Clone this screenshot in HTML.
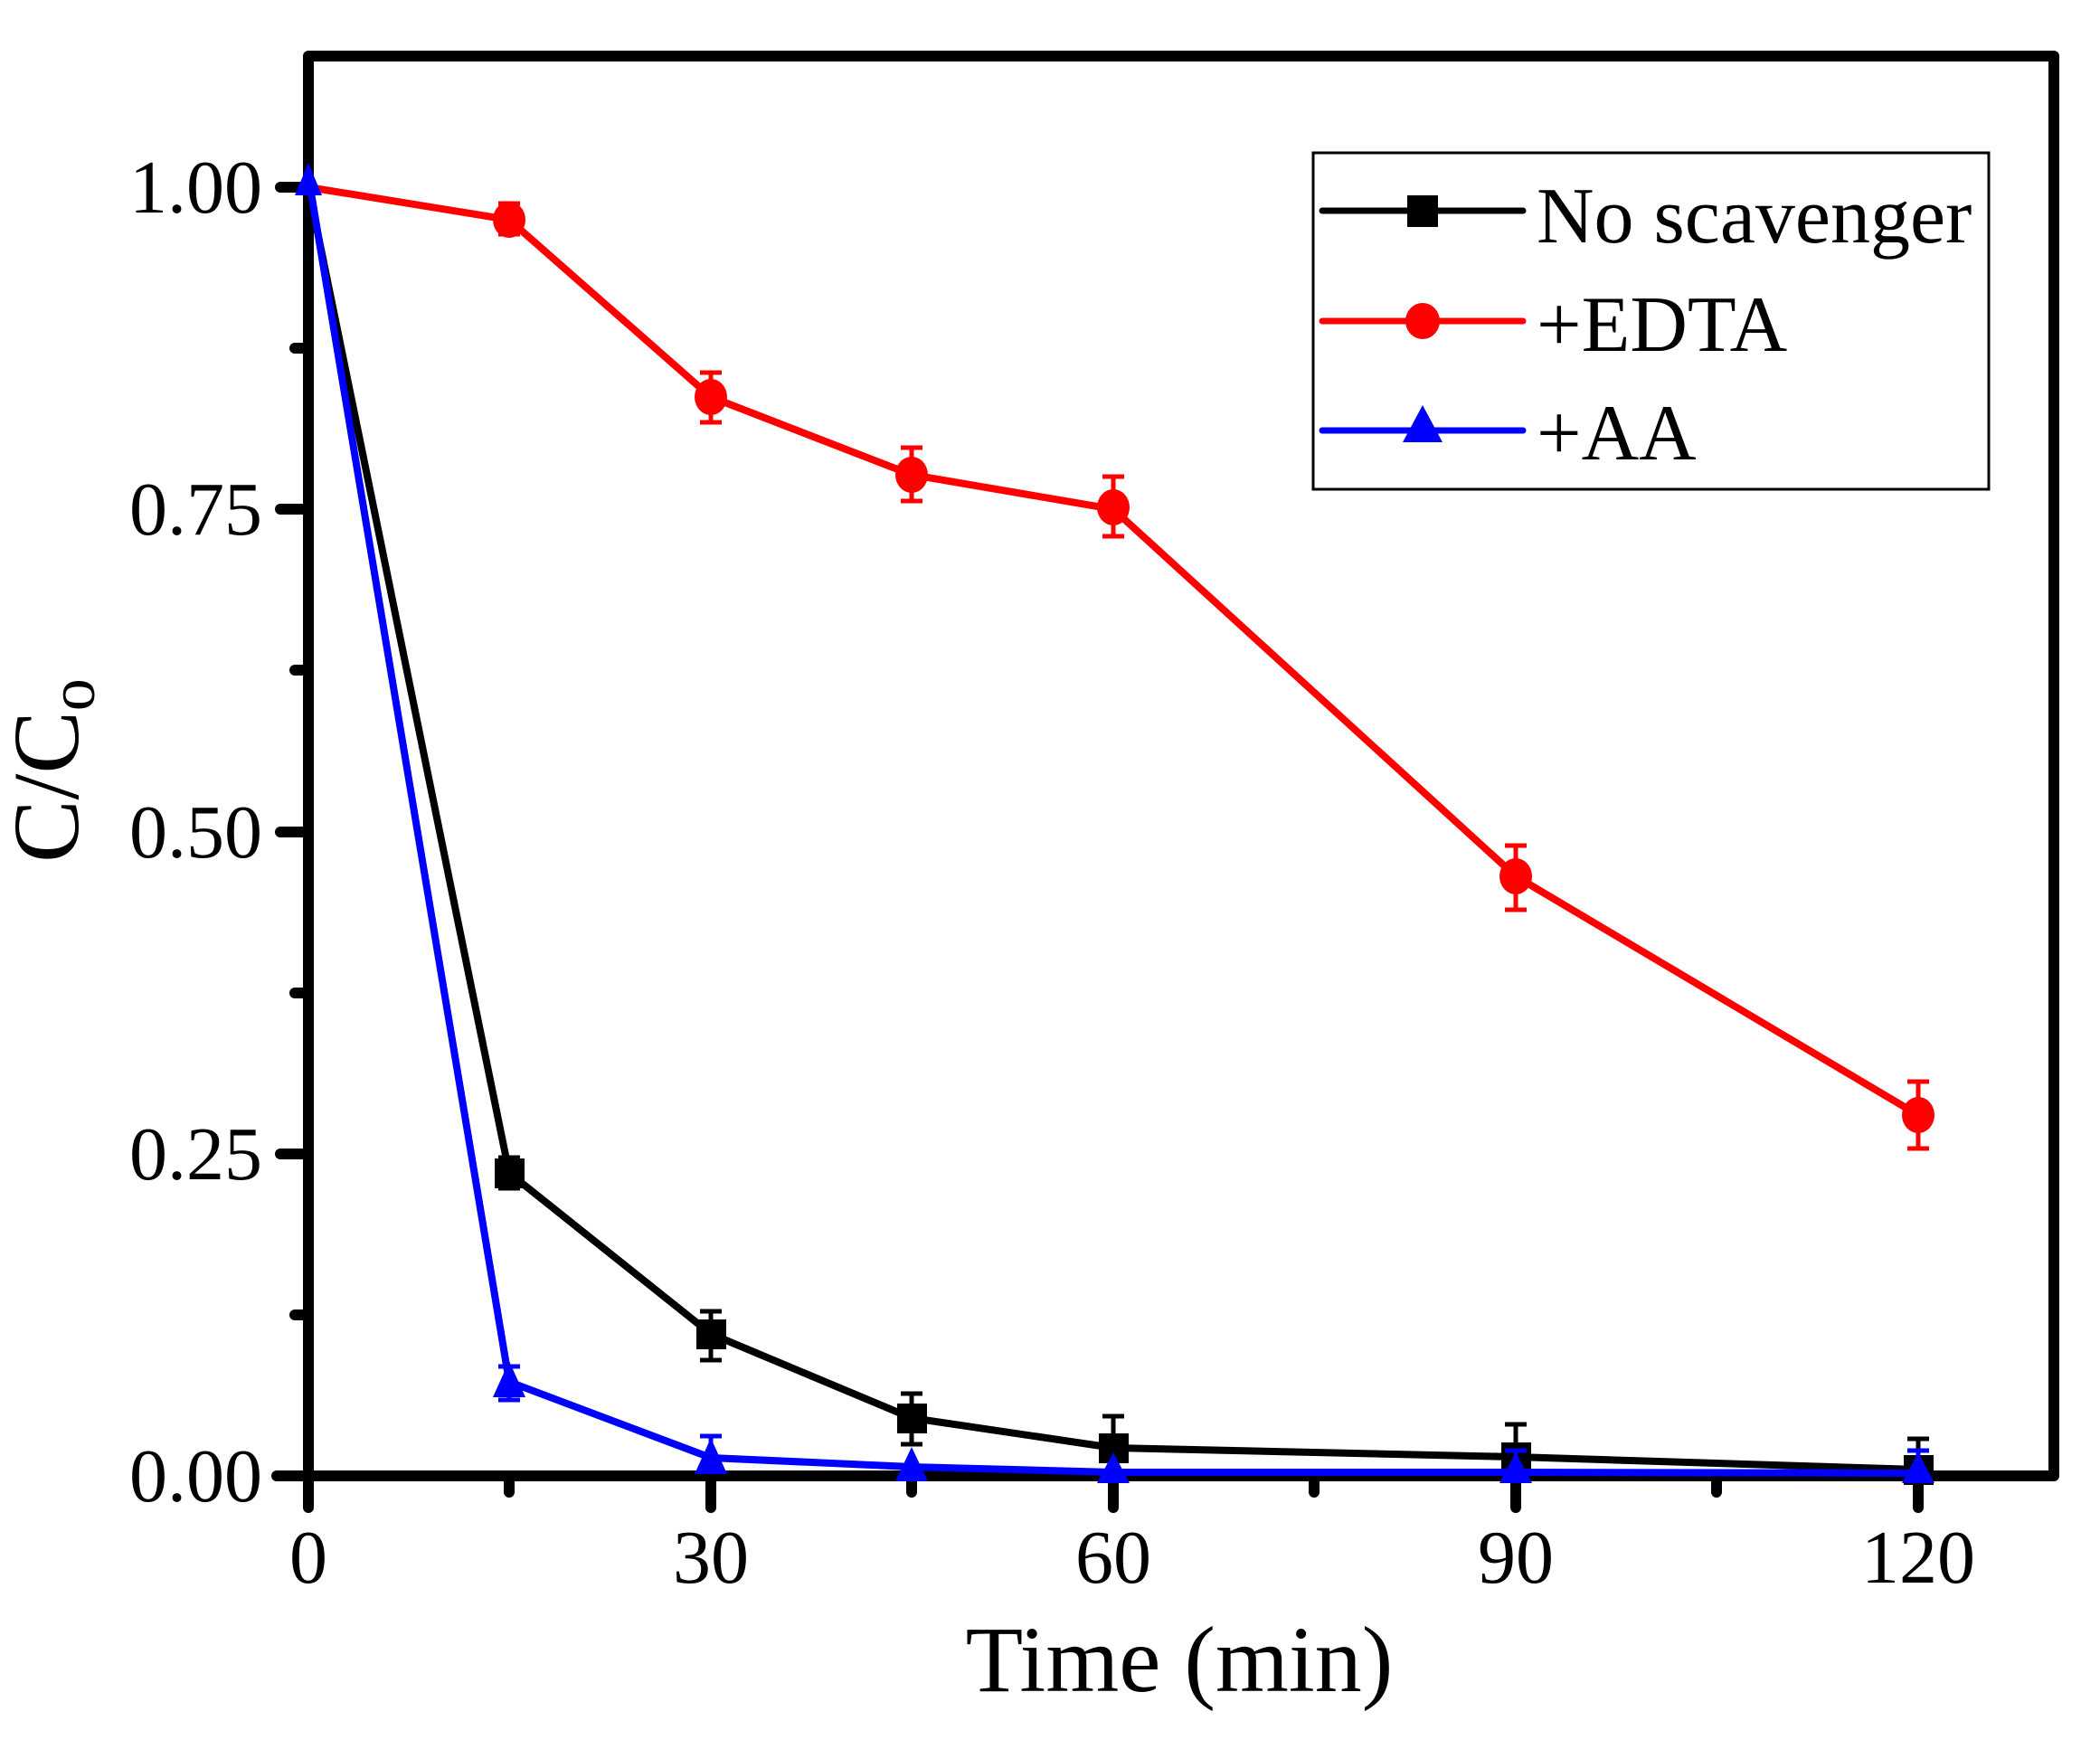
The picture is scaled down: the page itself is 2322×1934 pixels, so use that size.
<!DOCTYPE html>
<html><head><meta charset="utf-8"><style>html,body{margin:0;padding:0;background:#fff}svg{display:block}</style></head>
<body>
<svg width="2322" height="1934" viewBox="0 0 2322 1934" xmlns="http://www.w3.org/2000/svg" font-family="'Liberation Serif', serif">
<rect width="2322" height="1934" fill="#fff"/>
<g stroke="#000" stroke-width="12" stroke-linecap="round">
<line x1="341" y1="1632" x2="341" y2="1667"/>
<line x1="786" y1="1632" x2="786" y2="1667"/>
<line x1="1231" y1="1632" x2="1231" y2="1667"/>
<line x1="1676" y1="1632" x2="1676" y2="1667"/>
<line x1="2121" y1="1632" x2="2121" y2="1667"/>
<line x1="563" y1="1632" x2="563" y2="1650"/>
<line x1="1008" y1="1632" x2="1008" y2="1650"/>
<line x1="1453" y1="1632" x2="1453" y2="1650"/>
<line x1="1898" y1="1632" x2="1898" y2="1650"/>
<line x1="306" y1="1632" x2="341" y2="1632"/>
<line x1="310" y1="1276" x2="341" y2="1276"/>
<line x1="310" y1="920" x2="341" y2="920"/>
<line x1="310" y1="563" x2="341" y2="563"/>
<line x1="310" y1="207" x2="341" y2="207"/>
<line x1="326" y1="1454" x2="341" y2="1454"/>
<line x1="326" y1="1098" x2="341" y2="1098"/>
<line x1="326" y1="741" x2="341" y2="741"/>
<line x1="326" y1="385" x2="341" y2="385"/>
</g>
<rect x="341" y="62" width="1930" height="1570" fill="none" stroke="#000" stroke-width="12" stroke-linejoin="round"/>
<g font-size="84" fill="#000" text-anchor="end">
<text x="290" y="1660">0.00</text>
<text x="290" y="1304">0.25</text>
<text x="290" y="948">0.50</text>
<text x="290" y="591">0.75</text>
<text x="290" y="235">1.00</text>
</g>
<g font-size="84" fill="#000" text-anchor="middle">
<text x="341" y="1750">0</text>
<text x="786" y="1750">30</text>
<text x="1231" y="1750">60</text>
<text x="1676" y="1750">90</text>
<text x="2121" y="1750">120</text>
</g>
<text x="1304" y="1870" font-size="104" text-anchor="middle">Time (min)</text>
<text transform="translate(86,852) rotate(-90)" font-size="104" text-anchor="middle">C/C<tspan font-size="72" dy="18">o</tspan></text>
<g stroke="#000" stroke-width="5">
<path d="M563 1280v34M551 1280h24M551 1314h24 M786 1450v54M774 1450h24M774 1504h24 M1008 1541v56M996 1541h24M996 1597h24 M1231 1566v35M1219 1566h24 M1676 1575v36M1664 1575h24 M2121 1591v34M2109 1591h24"/>
</g>
<polyline fill="none" stroke="#000" stroke-width="8" points="341,207 563,1297 786,1475 1008,1568 1231,1601 1676,1611 2121,1625"/>
<g fill="#000">
<rect x="547" y="1281" width="33" height="33"/><rect x="770" y="1459" width="33" height="33"/><rect x="992" y="1552" width="33" height="33"/><rect x="1215" y="1585" width="33" height="33"/><rect x="1660" y="1595" width="33" height="33"/><rect x="2105" y="1609" width="33" height="33"/>
</g>
<g stroke="#f00" stroke-width="5" fill="none">
<path d="M563 225v34M551 225h24M551 259h24 M786 412v55M774 412h24M774 467h24 M1008 495v59M996 495h24M996 554h24 M1231 527v66M1219 527h24M1219 593h24 M1676 935v71M1664 935h24M1664 1006h24 M2121 1196v74M2109 1196h24M2109 1270h24"/>
</g>
<polyline fill="none" stroke="#f00" stroke-width="8" points="341,207 563,243 786,439 1008,525 1231,563 1676,969 2121,1233"/>
<g fill="#f00">
<ellipse cx="563" cy="243" rx="18" ry="20"/><ellipse cx="786" cy="439" rx="18" ry="20"/><ellipse cx="1008" cy="525" rx="18" ry="20"/><ellipse cx="1231" cy="561" rx="18" ry="20"/><ellipse cx="1676" cy="969" rx="18" ry="20"/><ellipse cx="2121" cy="1233" rx="18" ry="20"/>
</g>
<g stroke="#00f" stroke-width="5">
<path d="M563 1511v37M551 1511h24M551 1548h24 M786 1588v24M774 1588h24 M1676 1604v24M1664 1604h24 M2121 1604v24M2109 1604h24"/>
</g>
<polyline fill="none" stroke="#00f" stroke-width="8" points="341,195 563,1528 786,1612 1008,1622 1231,1628 1676,1628 2121,1629"/>
<g fill="#00f">
<path d="M341 180l-15 36h30z"/><path d="M563 1505l-18 40h36z"/><path d="M786 1590l-18 40h36z"/><path d="M1008 1600l-18 38h36z"/><path d="M1231 1606l-18 34h36z"/><path d="M1676 1606l-18 34h36z"/><path d="M2121 1606l-18 34h36z"/>
</g>
<rect x="1452" y="169" width="747" height="372" fill="#fff" stroke="#000" stroke-width="3"/>
<g stroke-width="7" stroke-linecap="round">
<line x1="1462" y1="233" x2="1684" y2="233" stroke="#000"/>
<line x1="1462" y1="355" x2="1684" y2="355" stroke="#f00"/>
<line x1="1462" y1="476" x2="1684" y2="476" stroke="#00f"/>
</g>
<rect x="1556" y="216" width="34" height="35" fill="#000"/>
<ellipse cx="1573" cy="355" rx="19" ry="20" fill="#f00"/>
<path d="M1573 448l-22 41h44z" fill="#00f"/>
<g font-size="88" fill="#000">
<text x="1699" y="268">No scavenger</text>
<text x="1699" y="388">+EDTA</text>
<text x="1699" y="508">+AA</text>
</g>
</svg>
</body></html>
